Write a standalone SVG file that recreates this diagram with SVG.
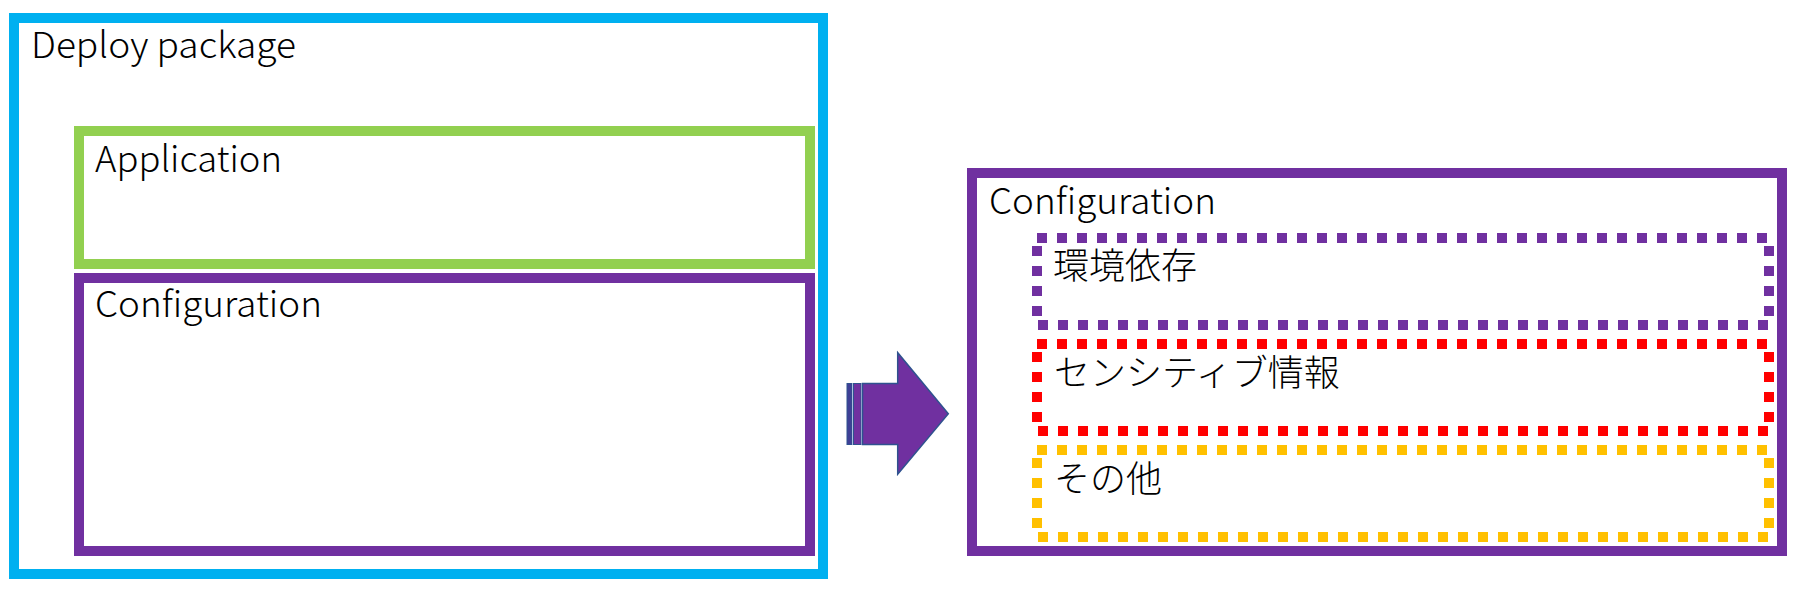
<svg xmlns="http://www.w3.org/2000/svg" width="1800" height="598" viewBox="0 0 1800 598">
<style>
  .box { fill: none; stroke-width: 10; }
  .dot { fill: none; stroke-width: 10; stroke-dasharray: 10 10; }
  .lbl { font-family: "Noto Sans CJK JP", "Noto Sans", sans-serif; font-size: 36px; font-weight: 300; fill: #000; }
</style>
<rect width="1800" height="598" fill="#fff"/>
<g id="deploy-package">
  <rect class="box" x="14" y="18" width="809" height="556" stroke="#00B0F0"/>
  <text class="lbl" x="31" y="58" textLength="265" lengthAdjust="spacingAndGlyphs">Deploy package</text>
</g>
<g id="application">
  <rect class="box" x="79" y="131" width="731" height="133" stroke="#92D050"/>
  <text class="lbl" x="95" y="172" textLength="187" lengthAdjust="spacingAndGlyphs">Application</text>
</g>
<g id="configuration-left">
  <rect class="box" x="79" y="278" width="731" height="273" stroke="#7030A0"/>
  <text class="lbl" x="95" y="317" textLength="227" lengthAdjust="spacingAndGlyphs">Configuration</text>
</g>
<g id="connectors">
  <rect x="847" y="383.5" width="5" height="61" fill="#3F3F96" stroke="#2F528F" stroke-width="1"/>
  <line x1="852.8" y1="383.5" x2="852.8" y2="444.5" stroke="#B4C7E7" stroke-width="1"/>
  <rect x="853.5" y="383.5" width="7.5" height="61" fill="#7030A0" stroke="#2F528F" stroke-width="1"/>
  <line x1="861.8" y1="383.5" x2="861.8" y2="444.5" stroke="#B4C7E7" stroke-width="1"/>
  <path d="M862.5,383.5 L897.7,383.5 L897.7,352.7 L948.3,413.7 L897.7,474.3 L897.7,444.5 L862.5,444.5 Z" fill="#7030A0" stroke="#2F528F" stroke-width="1.5"/>
</g>
<g id="configuration-right">
  <rect class="box" x="972" y="173" width="810" height="378" stroke="#7030A0"/>
  <text class="lbl" x="989" y="214" textLength="227" lengthAdjust="spacingAndGlyphs">Configuration</text>
</g>
<g id="env-dependent">
  <rect class="dot" x="1037" y="238" width="732" height="87" stroke="#7030A0"/>
  <text class="lbl" x="1053" y="279">環境依存</text>
</g>
<g id="sensitive">
  <rect class="dot" x="1037" y="344" width="732" height="87" stroke="#FF0000"/>
  <text class="lbl" x="1054" y="386">センシティブ情報</text>
</g>
<g id="others">
  <rect class="dot" x="1037" y="450" width="732" height="87" stroke="#FFC000"/>
  <text class="lbl" x="1054" y="492">その他</text>
</g>
</svg>
